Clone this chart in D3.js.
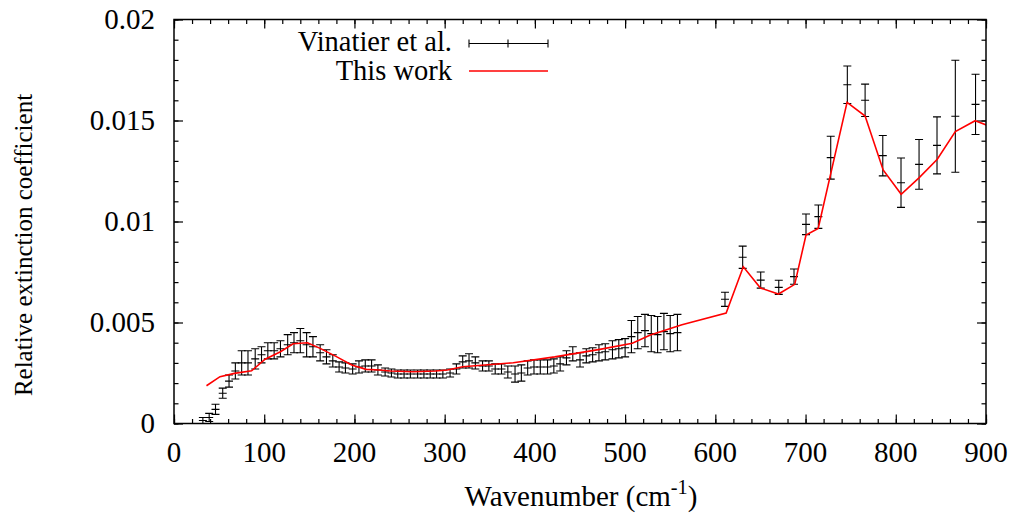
<!DOCTYPE html>
<html>
<head>
<meta charset="utf-8">
<script src="https://cdn.jsdelivr.net/npm/d3@7/dist/d3.min.js"></script>
</head>
<body style="margin:0">
<svg id="chart" width="1015" height="515" style="font-family: 'Liberation Serif'"></svg>
<script>
// ---------------- DATA ----------------
// Vinatier et al. (wavenumber cm^-1, value x1e-3, error x1e-3)
const vinX = [32, 39, 46, 54, 61, 68, 75, 82, 90, 97, 104, 111, 118, 126, 133, 140, 147, 154, 162, 169,
  176, 183, 190, 198, 205, 212, 219, 226, 234, 241, 248, 255, 262, 270, 277, 284, 291, 298, 306, 313,
  320, 327, 334, 342, 349, 356, 363, 370, 378, 385, 392, 399, 406, 414, 421, 428, 435, 442, 450, 457,
  464, 471, 478, 486, 493, 500, 507, 514, 522, 529, 536, 543, 550, 558,
  610.7, 630.3, 650.3, 670.3, 687.2, 700.5, 714.2, 727.9, 746.3, 766, 785.6, 805.8, 825.8, 845.7, 866, 888.4];
const vinY = [0.15, 0.3, 0.7, 1.5, 2.1, 2.6, 3.0, 3.0, 3.2, 3.4, 3.6, 3.6, 3.7, 3.9, 4.0, 4.1, 3.9, 3.8, 3.5, 3.3,
  3.1, 2.8, 2.75, 2.7, 2.8, 2.85, 2.85, 2.65, 2.55, 2.5, 2.45, 2.45, 2.45, 2.45, 2.45, 2.45, 2.45, 2.45, 2.5, 2.7,
  3.05, 3.1, 3.0, 2.85, 2.85, 2.7, 2.7, 2.55, 2.45, 2.5, 2.75, 2.8, 2.8, 2.8, 2.85, 2.95, 3.25, 3.45, 3.15, 3.35,
  3.4, 3.5, 3.55, 3.65, 3.7, 3.75, 4.3, 4.5, 4.6, 4.45, 4.4, 4.55, 4.45, 4.5,
  6.15, 8.23, 7.10, 6.74, 7.27, 9.86, 10.24, 13.16, 16.77, 16.0, 13.26, 11.92, 12.83, 13.77, 15.21, 15.8];
const vinErr = [0.15, 0.2, 0.25, 0.25, 0.3, 0.4, 0.6, 0.6, 0.5, 0.4, 0.4, 0.4, 0.4, 0.5, 0.5, 0.6, 0.6, 0.5, 0.4, 0.35,
  0.3, 0.25, 0.25, 0.25, 0.3, 0.3, 0.3, 0.25, 0.2, 0.2, 0.2, 0.2, 0.2, 0.2, 0.2, 0.2, 0.2, 0.2, 0.2, 0.25,
  0.3, 0.35, 0.3, 0.25, 0.25, 0.25, 0.25, 0.3, 0.4, 0.4, 0.35, 0.35, 0.35, 0.35, 0.35, 0.35, 0.35, 0.35, 0.35, 0.35,
  0.35, 0.4, 0.4, 0.45, 0.45, 0.45, 0.8, 0.8, 0.8, 0.9, 0.9, 0.9, 0.9, 0.9,
  0.35, 0.55, 0.40, 0.35, 0.38, 0.51, 0.58, 1.06, 0.93, 0.80, 1.0, 1.22, 1.23, 1.41, 2.77, 1.49];

// This work (wavenumber cm^-1, value x1e-3)
const workX = [36, 51, 67, 86, 101, 118, 132, 148, 162, 180, 197, 213, 228, 240, 265, 290, 303, 320, 376, 422,
  472, 508, 528, 563, 612, 631, 650, 670, 688, 700.5, 714, 746, 766, 786, 806, 826, 846, 866, 888, 905];
const workY = [1.87, 2.32, 2.48, 2.61, 3.18, 3.55, 3.95, 4.0, 3.72, 3.31, 2.9, 2.68, 2.65, 2.6, 2.56, 2.6, 2.65, 2.81, 3.01, 3.3,
  3.67, 3.97, 4.38, 4.89, 5.47, 7.76, 6.71, 6.41, 6.89, 9.33, 9.66, 15.9, 15.22, 12.55, 11.35, 12.17, 13.08, 14.45, 14.99, 14.7];

const xTickVals = [0, 100, 200, 300, 400, 500, 600, 700, 800, 900];
const yTickVals = [0, 0.005, 0.01, 0.015, 0.02];
const yTickLabels = ["0", "0.005", "0.01", "0.015", "0.02"];
const legendLabels = ["Vinatier et al.", "This work"];

// ---------------- LAYOUT ----------------
const svg = d3.select("#chart");
const L = 174, R = 986, T = 19.5, B = 423.5;
const x = d3.scaleLinear().domain([0, 900]).range([L, R]);
const y = d3.scaleLinear().domain([0, 0.02]).range([B, T]);
const FS = 29;

svg.append("defs").append("clipPath").attr("id", "clip")
  .append("rect").attr("x", L).attr("y", T).attr("width", R - L).attr("height", B - T);

// axes with inward ticks (mirrored on all four sides)
const minorX = d3.range(0, 901, 20);
const minorY = d3.range(0, 0.02001, 0.001);
function tickAxis(gen, transform, vals, size) {
  const g = svg.append("g").attr("transform", transform)
    .call(gen.tickValues(vals).tickSize(size).tickFormat(""));
  g.select(".domain").remove();
  g.selectAll("line").attr("stroke", "#000").attr("stroke-width", 1.2);
  g.selectAll("text").remove();
  g.attr("font-family", null).attr("font-size", null);
  return g;
}
tickAxis(d3.axisBottom(x), `translate(0,${B})`, minorX, -4.5);
tickAxis(d3.axisBottom(x), `translate(0,${B})`, xTickVals, -9);
tickAxis(d3.axisTop(x), `translate(0,${T})`, minorX, -4.5);
tickAxis(d3.axisTop(x), `translate(0,${T})`, xTickVals, -9);
tickAxis(d3.axisLeft(y), `translate(${L},0)`, minorY, -4.5);
tickAxis(d3.axisLeft(y), `translate(${L},0)`, yTickVals, -9);
tickAxis(d3.axisRight(y), `translate(${R},0)`, minorY, -4.5);
tickAxis(d3.axisRight(y), `translate(${R},0)`, yTickVals, -9);

function txt(sel) {
  return sel.style("font-family", () => '"Liberation Serif"')
    .attr("font-family", "Liberation Serif");
}

// tick labels
txt(svg.append("g").selectAll("text").data(xTickVals).join("text"))
  .attr("x", d => x(d)).attr("y", 462)
  .attr("text-anchor", "middle").attr("font-size", FS)
  .text(d => String(d));
txt(svg.append("g").selectAll("text").data(yTickVals).join("text"))
  .attr("x", 155).attr("y", d => y(d) + 9)
  .attr("text-anchor", "end").attr("font-size", FS)
  .text((d, i) => yTickLabels[i]);

// axis titles
const xl = txt(svg.append("text")).attr("x", 581).attr("y", 506).attr("text-anchor", "middle").attr("font-size", FS);
xl.append("tspan").text("Wavenumber (cm");
xl.append("tspan").attr("font-size", FS * 0.7).attr("dy", -12).text("-1");
xl.append("tspan").attr("dy", 12).text(")");
txt(svg.append("text")).attr("transform", `translate(32,245) rotate(-90)`)
  .attr("text-anchor", "middle").attr("font-size", 25)
  .text("Relative extinction coefficient");

// data
const pts = vinX.map((v, i) => ({ x: v, y: vinY[i] / 1000, e: vinErr[i] / 1000 }));
const gData = svg.append("g").attr("clip-path", "url(#clip)");
const cap = 4;
const eb = gData.append("g").attr("stroke", "#000").attr("stroke-width", 1.1).attr("fill", "none");
eb.selectAll("path").data(pts).join("path")
  .attr("d", d => {
    const px = x(d.x), y0 = y(d.y - d.e), y1 = y(d.y + d.e), yc = y(d.y);
    return `M${px},${y0}V${y1}M${px - cap},${y0}H${px + cap}M${px - cap},${y1}H${px + cap}M${px - cap},${yc}H${px + cap}`;
  });

const line = d3.line().x((d, i) => x(workX[i])).y((d, i) => y(workY[i] / 1000));
gData.append("path").datum(workX).attr("d", line)
  .attr("fill", "none").attr("stroke", "#ff0000").attr("stroke-width", 1.6);

// frame
svg.append("rect").attr("x", L).attr("y", T).attr("width", R - L).attr("height", B - T)
  .attr("fill", "none").attr("stroke", "#000").attr("stroke-width", 1.5);

// legend
const lg = svg.append("g");
txt(lg.append("text")).attr("x", 452).attr("y", 51).attr("text-anchor", "end").attr("font-size", 28.5).text(legendLabels[0]);
txt(lg.append("text")).attr("x", 452).attr("y", 80).attr("text-anchor", "end").attr("font-size", 28.5).text(legendLabels[1]);
lg.append("path").attr("stroke", "#000").attr("stroke-width", 1.1).attr("fill", "none")
  .attr("d", "M469,43.5H548M469,39.5V47.5M548,39.5V47.5M508,39.5V47.5");
lg.append("path").attr("stroke", "#ff0000").attr("stroke-width", 1.6).attr("fill", "none")
  .attr("d", "M469,71H548");
</script>
</body>
</html>
